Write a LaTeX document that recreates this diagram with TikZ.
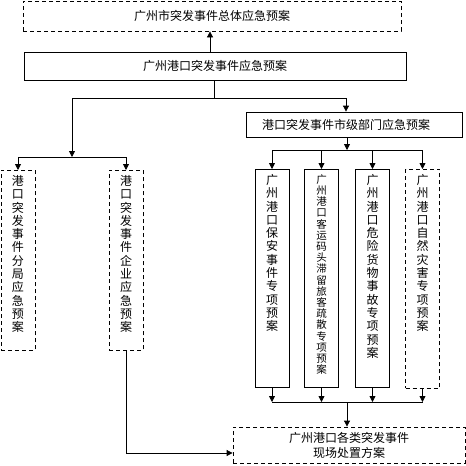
\documentclass[tikz,border=0pt]{standalone}
\usepackage{fontspec}
\setmainfont{Noto Sans CJK SC}
\usepackage{tikz}
\usetikzlibrary{arrows.meta}
\tikzset{>={Triangle[length=6pt,width=6pt]}}
\usetikzlibrary{positioning}

\begin{document}
\begin{tikzpicture}[x=1pt,y=-1pt,line width=0.8pt,
    plan/.style={draw,inner sep=0pt,font=\fontsize{12}{15}\selectfont},
    dplan/.style={plan,dash pattern=on 4pt off 3pt},
    vplan/.style={draw,minimum width=34pt,inner sep=0pt,anchor=north},
    vtext/.style={anchor=north,yshift=-3pt,align=center,inner sep=2pt,font=\fontsize{12}{13.3}\selectfont}]
    \useasboundingbox (0,0) rectangle (466,466);
    \node[dplan,minimum width=378pt,minimum height=30pt] at (212,16) (city) {广州市突发事件总体应急预案};
    \node[plan,minimum width=382pt,minimum height=28pt] at (215,66) (port) {广州港口突发事件应急预案};
    \node[plan,minimum height=25pt,text width=184pt,inner xsep=16pt,align=left] at (354,124.5) (dept) {港口突发事件市级部门应急预案};
    \node[vplan,dash pattern=on 4pt off 3pt,minimum height=180pt,
        label={[vtext]north:{港\\口\\突\\发\\事\\件\\分\\局\\应\\急\\预\\案}}] at (18,170) (lb1) {};
    \node[vplan,dash pattern=on 4pt off 3pt,minimum height=180pt,
        label={[vtext]north:{港\\口\\突\\发\\事\\件\\企\\业\\应\\急\\预\\案}}] at (126,170) (lb2) {};
    \node[vplan,minimum height=218pt,
        label={[vtext]north:{广\\州\\港\\口\\保\\安\\事\\件\\专\\项\\预\\案}}] at (272,169) (rb1) {};
    \node[vplan,minimum height=218pt,
        label={[vtext,font=\fontsize{10.5}{11.2}\selectfont]north:{广\\州\\港\\口\\客\\运\\码\\头\\滞\\留\\旅\\客\\疏\\散\\专\\项\\预\\案}}] at (321.5,169) (rb2) {};
    \node[vplan,minimum height=218pt,
        label={[vtext]north:{广\\州\\港\\口\\危\\险\\货\\物\\事\\故\\专\\项\\预\\案}}] at (372.5,169) (rb3) {};
    \node[vplan,dash pattern=on 4pt off 3pt,minimum height=219pt,
        label={[vtext]north:{广\\州\\港\\口\\自\\然\\灾\\害\\专\\项\\预\\案}}] at (422.5,169) (rb4) {};
    \node[dplan,minimum width=232pt,minimum height=36pt,align=center] at (349,445) (scene) {广州港口各类突发事件\\现场处置方案};
    % junctions
    \coordinate (jc) at (214,98);
    \coordinate (jl) at (72,98);
    \coordinate (jr) at (346,98);
    \coordinate (ll) at (72,157);
    \coordinate (rr) at (347,150);
    \coordinate (rs) at (347,402);
    \draw[->] ([xshift=-5pt]port.north) -- ([xshift=-5pt]port.north |- city.south);
    \draw (port.south -| jc) -- (jc);
    \draw (jl) -- (jr);
    \draw[->] (jr) -- (jr |- dept.north);
    \draw[->] (jl) -- (ll);
    \draw (lb1.north |- ll) -- (lb2.north |- ll);
    \draw[->] (lb1.north |- ll) -- (lb1.north);
    \draw[->] (lb2.north |- ll) -- (lb2.north);
    \draw[->] (dept.south -| rr) -- (rr);
    \draw (rb1.north |- rr) -- (rb4.north |- rr);
    \foreach \n in {rb1,rb2,rb3,rb4} {
        \draw[->] (\n.north |- rr) -- (\n.north);
        \draw[->] (\n.south) -- (\n.south |- rs);
    }
    \draw (rb1.south |- rs) -- (rb4.south |- rs);
    \draw[->] (rs) -- (rs |- scene.north);
    \draw[->] (lb2.south) |- ([yshift=-8pt]scene.west);
\end{tikzpicture}
\end{document}
